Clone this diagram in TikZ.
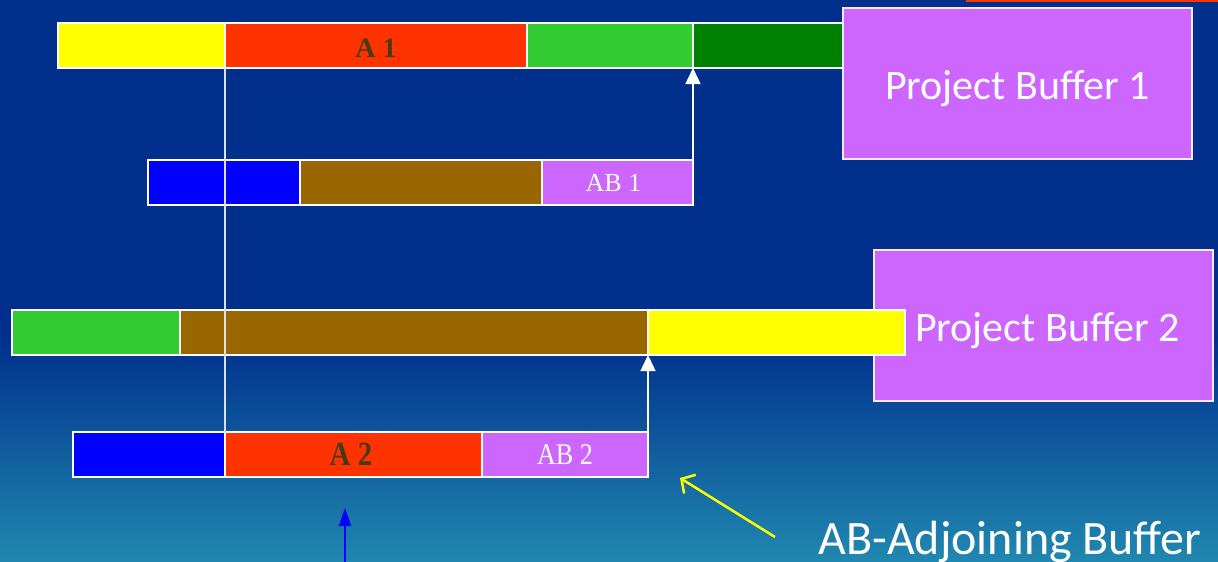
\documentclass[tikz,border=0pt]{standalone}
\usepackage{fontspec}
\setmainfont{Carlito}
\newfontfamily\tms{Liberation Serif}
\usetikzlibrary{arrows.meta}
\definecolor{bgtop}{HTML}{00308C}
\definecolor{bgbot}{HTML}{2088B0}
\definecolor{cyel}{HTML}{FFFF00}
\definecolor{cred}{HTML}{FF3300}
\definecolor{clg}{HTML}{33CC33}
\definecolor{cdg}{HTML}{008000}
\definecolor{cbr}{HTML}{996600}
\definecolor{cbl}{HTML}{0000FF}
\definecolor{cpu}{HTML}{CC66FF}
\definecolor{cdark}{HTML}{4A3A12}
\newcommand{\lowered}[2]{\raisebox{-#1}[\height][\depth]{#2}}
\tikzset{
  cell/.style={draw=white, line width=1.5pt, inner sep=0pt, outer sep=0pt, minimum height=45pt, anchor=north west},
  pbox/.style={draw=white!85!cpu, line width=1.5pt, fill=cpu, inner sep=0pt, outer sep=0pt, anchor=north west, text=white, font=\fontsize{42}{48}\selectfont},
  atext/.style={text=cdark, font=\tms\bfseries\fontsize{28}{30}\selectfont},
  abtext/.style={text=white, font=\tms\fontsize{26}{28}\selectfont},
  conn/.style={draw=white, line width=1.5pt},
  warrow/.style={conn, -{Triangle[width=15pt,length=16pt]}},
}
\begin{document}
\begin{tikzpicture}[x=1pt,y=-1pt]
\useasboundingbox (0,0) rectangle (1218,562);
% background
\fill[bgtop] (0,0) rectangle (1218,340);
\shade[top color=bgtop, bottom color=bgbot] (0,339) rectangle (1218,562);
\fill[cred] (966,0) rectangle (1218,2);
% row 1
\node[cell, fill=cyel, minimum width=167pt] (r1a) at (58,23) {};
\node[cell, fill=cred, minimum width=302pt, atext] (r1b) at (225,23) {\lowered{3pt}{A 1}};
\node[cell, fill=clg, minimum width=166pt] (r1c) at (527,23) {};
\node[cell, fill=cdg, minimum width=157pt] (r1d) at (693,23) {};
\node[pbox, minimum width=349pt, minimum height=151pt] (pb1) at (843,8) {\lowered{5pt}{Project Buffer 1}};
% row 2
\node[cell, fill=cbl, minimum width=152pt] (r2a) at (148,160) {};
\node[cell, fill=cbr, minimum width=242pt] (r2b) at (300,160) {};
\node[cell, fill=cpu, minimum width=151pt, abtext] (ab1) at (542,160) {AB 1\hspace*{8pt}};
% project buffer 2
\node[pbox, minimum width=339pt, minimum height=151pt] (pb2) at (874,250) {\hspace*{8pt}\lowered{5pt}{Project Buffer 2}};
% row 3
\node[cell, fill=clg, minimum width=168pt] (r3a) at (12,310) {};
\node[cell, fill=cbr, minimum width=468pt] (r3b) at (180,310) {};
\node[cell, fill=cyel, minimum width=257pt] (r3c) at (648,310) {};
% row 4
\node[cell, fill=cbl, minimum width=152pt] (r4a) at (73,432) {};
\node[cell, fill=cred, minimum width=257pt, atext, font=\tms\bfseries\fontsize{34}{36}\selectfont] (r4b) at (225,432) {\scalebox{0.85}[1]{A 2}\hspace*{5pt}};
\node[cell, fill=cpu, minimum width=166pt, abtext, font=\tms\fontsize{30}{32}\selectfont] (ab2) at (482,432) {\scalebox{0.87}[1]{AB 2}};
% connectors
\draw[conn, draw=white!85!bgtop] (r1b.south west) -- (r4b.north west);
\draw[warrow] (ab1.north east) -- (r1c.south east);
\draw[warrow] (ab2.north east) -- (r3b.south east);
% annotations
\coordinate (bstart) at (345,562);
\coordinate (bend) at (345,508);
\draw[cbl, line width=2pt, -{Triangle[width=12pt,length=18pt]}] (bstart) -- (bend);
\node[text=white, font=\fontsize{48}{54}\selectfont, anchor=base] (abl) at (1010,554) {AB-Adjoining Buffer};
\coordinate (ystart) at (775,537);
\coordinate (yend) at (680,478);
\draw[cyel, line width=2.5pt, -{Straight Barb[length=10pt,width=22pt]}] (ystart) -- (yend);
\end{tikzpicture}
\end{document}
